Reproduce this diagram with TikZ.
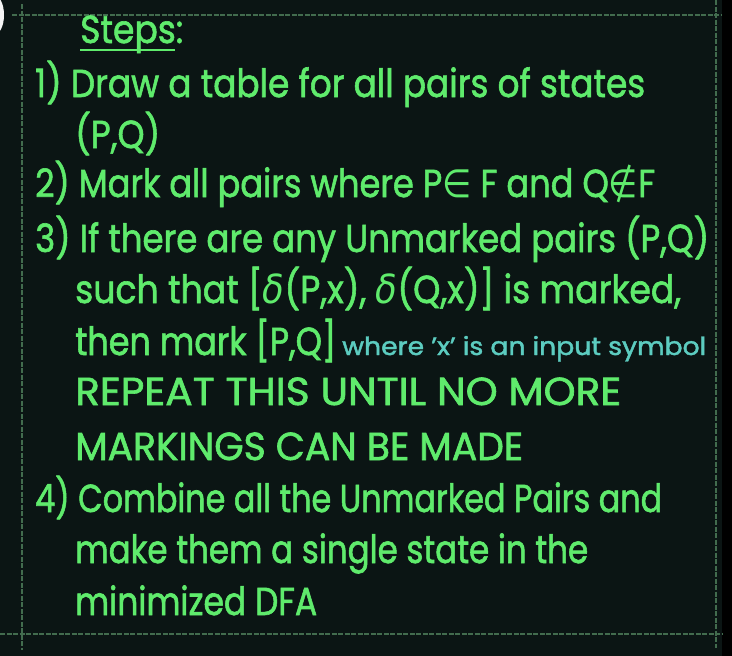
\documentclass[tikz,border=0pt]{standalone}
\usepackage{fontspec}
\setmainfont{Poppins}[FakeBold=1.6,BoldFont=Poppins]
\newfontfamily\symf{DejaVu Sans}[BoldFont=DejaVu Sans]
\usepackage{graphicx}
\definecolor{bg}{RGB}{11,21,20}
\definecolor{chalk}{RGB}{95,235,108}
\definecolor{aqua}{RGB}{92,204,192}
\definecolor{rule}{RGB}{66,108,78}
\newcommand\fitw[2]{\resizebox{#1}{\height}{#2}}
\newcommand\dl{{\symf\itshape\fontsize{40}{44}\selectfont δ}}
\tikzset{
  txt/.style={anchor=base west, inner sep=0pt, text=chalk, font=\fontsize{39}{41}\bfseries},
  note/.style={anchor=base west, inner sep=0pt, text=aqua, font=\fontsize{25}{27}\bfseries},
  frame/.style={draw=rule, line width=1.1pt, dash pattern=on 5pt off 1.5pt}
}
\begin{document}
\begin{tikzpicture}[x=1pt,y=-1pt]
\useasboundingbox (0,0) rectangle (732,656);
\clip (0,0) rectangle (732,656);
\fill[bg] (0,0) rectangle (722,656);
\fill[black] (722,0) rectangle (732,656);
\fill[white!92!gray] (-5,15) ellipse (9 and 19);
% frame
\coordinate (tl) at (12,15); \coordinate (tr) at (722,15);
\coordinate (lt) at (22,4);  \coordinate (lb) at (22,650);
\coordinate (bl) at (0,634); \coordinate (br) at (722,634);
\coordinate (rt) at (716,0); \coordinate (rb) at (716,648);
\draw[frame] (tl) -- (tr);
\draw[frame] (lt) -- (lb);
\draw[frame] (bl) -- (br);
\draw[frame] (rt) -- (rb);
% text
\node[txt] (st) at (80,43) {\fitw{103pt}{Steps:}};
\draw[chalk, line width=2.6pt] ([yshift=-7pt]st.base west) -- ++(95,0);
\node[txt] (l1) at (35,97) {\fitw{610pt}{1) Draw a table for all pairs of states}};
\node[txt] (l1b) at (75,148) {\fitw{85pt}{(P,Q)}};
\node[txt] (l2) at (35,197) {\fitw{620pt}{2) Mark all pairs where P{\symf∈} F and Q{\symf∉}F}};
\node[txt] (l3) at (35,252) {\fitw{674pt}{3) If there are any Unmarked pairs (P,Q)}};
\node[txt] (l4) at (75,303) {\fitw{606pt}{such that [\dl(P,x), \dl(Q,x)] is marked,}};
\node[txt] (l5) at (75,355) {\fitw{261pt}{then mark [P,Q]}};
\node[note] (n5) at (342,355) {\fitw{364pt}{where 'x' is an input symbol}};
\node[txt] (l6) at (75,405) {\fitw{546pt}{REPEAT THIS UNTIL NO MORE}};
\node[txt] (l7) at (75,460) {\fitw{448pt}{MARKINGS CAN BE MADE}};
\node[txt] (l8) at (35,512) {\fitw{627pt}{4) Combine all the Unmarked Pairs and}};
\node[txt] (l9) at (75,563) {\fitw{513pt}{make them a single state in the}};
\node[txt] (l10) at (75,615) {\fitw{242pt}{minimized DFA}};
\end{tikzpicture}
\end{document}
